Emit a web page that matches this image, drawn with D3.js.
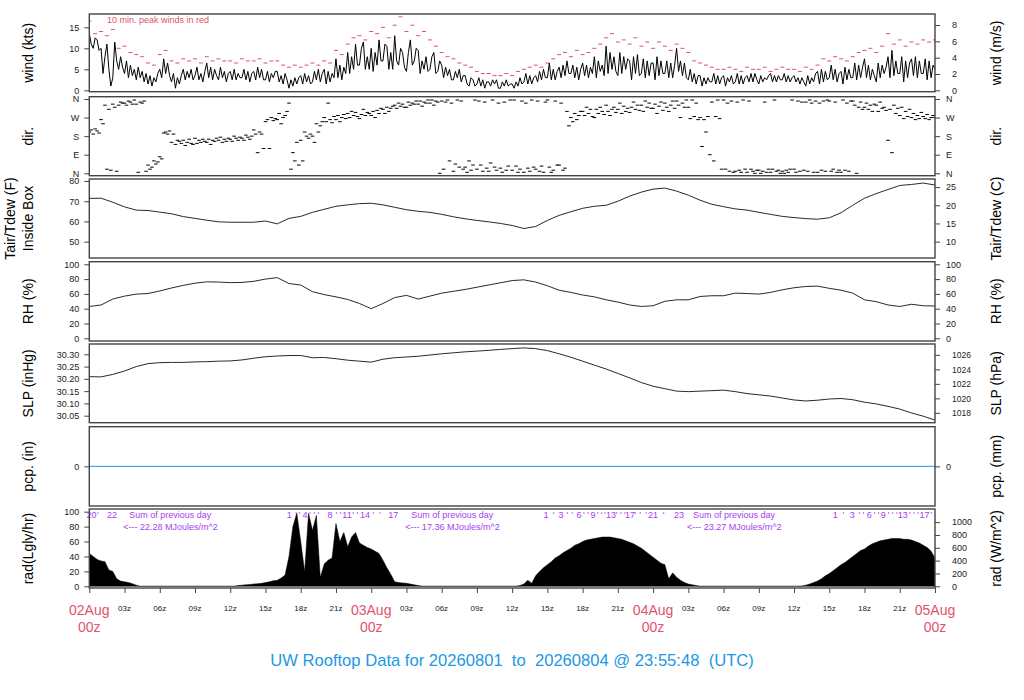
<!DOCTYPE html>
<html>
<head>
<meta charset="utf-8">
<title>UW Rooftop Data</title>
<script src="https://cdn.jsdelivr.net/npm/d3@7"></script>
<style>
  body { margin: 0; background: #fff; }
  svg text { font-family: "Liberation Sans", Arial, Helvetica, sans-serif; }
</style>
</head>
<body>
<svg width="1024" height="700"></svg>
<script>
// all times are hours after 02Aug 00z

// wind speed, kts, every 10 min (one row per hour)
var windStep = 1 / 6;
var windKts = [
  13.5, 11, 10, 12.5, 12, 9.5,   10, 4, 8, 11, 5, 1,   3, 11.5, 7, 5, 8, 5.5,
  4, 7, 3, 6, 3.5, 5,   2.5, 5.5, 3, 4.5, 2, 4,   1.5, 3.5, 1, 3, 2, 4,
  5, 3, 7.5, 4, 6.5, 3.5,   2, 4, 0.5, 3, 1.5, 3.5,   5, 2.5, 4.5, 3, 5, 2.5,
  3.5, 5.5, 2.5, 4, 2, 4.5,   6.5, 3, 5.5, 2.5, 5, 3.5,   2.5, 5.5, 3, 4.5, 2, 4,
  4.5, 2.5, 5, 2.5, 4, 3,   3, 5, 2.5, 4.5, 2, 4,   4.5, 2.5, 5.5, 3, 5, 2.5,
  2.5, 4.5, 2, 4, 3, 4.5,   4.5, 2, 3.5, 1.5, 4, 2.5,   0.5, 2.5, 1, 3, 1.5, 3,
  3.5, 1.5, 4, 2, 3.5, 1.5,   2, 4.5, 2.5, 5, 2, 4,   5, 1.5, 4.5, 2, 4, 3,
  7.5, 3, 6, 2.5, 5.5, 4,   9, 4, 8, 5, 11, 6,   6, 10, 11.5, 5, 8, 5,
  10, 4.5, 9, 6, 12, 7,   7, 11, 10.5, 5, 9, 5,   13, 7, 6, 10, 9, 5.5,
  4.5, 9, 12, 6, 7, 10,   9.5, 4, 7, 5, 8, 4.5,   5, 8, 9, 4, 4.5, 7,
  6, 3, 5.5, 3.5, 5, 2.5,   2.5, 4.5, 3, 5, 2, 3.5,   3.5, 1.5, 1, 3, 2.5, 1,
  1.5, 3, 1, 2.5, 0.5, 2,   2, 1, 2.5, 1.5, 2.5, 0.5,   0.5, 2, 1, 2.5, 1, 1.5,
  1.5, 0.5, 2, 1, 3, 1.5,   2, 4, 1.5, 3.5, 1.5, 3,   3.5, 2, 4.5, 2.5, 5, 3,
  3, 6.5, 2.5, 5, 2.5, 4.5,   5.5, 3, 6, 3.5, 7, 4,   4, 6, 3, 5.5, 2.5, 5,
  6.5, 3.5, 6, 3, 5.5, 4,   8, 3, 7, 4.5, 6, 3.5,   10.5, 4, 9, 5, 8, 4.5,
  3.5, 9, 4, 8, 5, 7.5,   7, 2.5, 8, 4, 8.5, 3.5,   4, 7.5, 3, 7, 3.5, 6.5,
  6.5, 2.5, 8, 3.5, 7, 4,   4, 7, 3, 6.5, 3, 6,   10, 4.5, 7, 3.5, 6.5, 3,
  2.5, 5, 2, 4, 1.5, 3.5,   3.5, 1, 3, 1.5, 3, 2,   2, 4, 1.5, 3.5, 1.5, 3,
  3.5, 1, 3, 2, 3.5, 1.5,   2, 4, 1.5, 3.5, 1.5, 3,   3.5, 2, 4, 2, 4, 2.5,
  1.5, 3.5, 2, 3, 2.5, 3.5,   4, 2, 3.5, 2, 3.5, 2.5,   2.5, 4, 2, 3.5, 2, 3,
  3.5, 2, 3, 1.5, 3, 2,   1, 3.5, 1.5, 3, 2, 4,   4.5, 1.5, 5, 2, 4.5, 2.5,
  3, 6, 2.5, 5, 2, 4,   4.5, 1.5, 5.5, 2.5, 5, 3,   3, 6.5, 2.5, 6, 3, 5.5,
  7.5, 3, 6, 2.5, 5, 3.5,   2, 6.5, 3, 6, 4, 5.5,   8, 3, 9.5, 3.5, 7, 4,
  4, 8, 2, 7, 3, 6.5,   7.5, 3.5, 8, 3, 7, 4,   4, 7.5, 2.5, 7, 3, 6,
  5
];

// 10 min. peak winds, kts, every 30 min
var peakStep = 0.5;
var peakKts = [
  16.5, 13.5,  14, 13,  14.5, 10,  10.5, 9,  8.5, 8,  6.5, 6,  8.5, 9.5,  7, 6.5,
  7.5, 7,  7.5, 6.5,  8, 7,  7.5, 7,  7, 6.5,  7.5, 7,  7, 7.5,  6.5, 7,
  7, 6,  5.5, 6,  5.5, 6,  6.5, 6,  7, 6.5,  9.5, 8.5,  11, 12.5,  13, 12,
  14, 13.5,  15, 12.5,  15.5, 17.5,  14, 15.5,  13, 14,  12, 10.5,  9, 8,  7.5, 6.5,
  6, 5.5,  4.5, 4,  4, 3.5,  3.5, 4,  3.5, 4.5,  5, 5.5,  6, 5.5,  6.5, 7.5,
  8.5, 9,  8, 9.5,  8.5, 9,  10, 11,  12.5, 13.5,  11.5, 12,  11, 12.5,  10.5, 11.5,
  10, 11.5,  10.5, 9.5,  11, 10,  9, 7,  6.5, 6,  5.5, 5,  5, 5.5,  5, 4.5,
  5.5, 5,  5, 5.5,  4.5, 5,  5.5, 5,  5, 4.5,  5.5, 5,  6, 7.5,  7, 8,
  7.5, 7,  8, 9,  9.5, 10,  9, 10.5,  13.5, 11,  12, 10.5,  11.5, 11,  12, 11.5,
  12
];

// wind direction, degrees, every 10 min (one row per hour)
var dirStep = 1 / 6;
var dirDeg = [
  200, 210, 190, 215, 205, 195,   260, 240, 330, 20, 310, 15,   335, 320, 10, 330, 345, 340,
  340, 330, 350, 345, 335, 355,   335, 5, 345, 340, 350, 10,   40, 20, 30, 60, 45, 55,
  80, 70, 195, 200, 190, 205,   150, 190, 140, 160, 155, 145,   160, 135, 150, 165, 145, 140,
  170, 145, 160, 150, 165, 155,   150, 165, 140, 160, 155, 170,   160, 175, 150, 165, 155, 170,
  165, 155, 180, 170, 160, 175,   170, 160, 185, 175, 165, 180,   210, 190, 100, 200, 190, 120,
  250, 260, 120, 270, 255, 265,   260, 290, 240, 270, 280, 300,   340, 20, 100, 60, 150, 40,
  160, 60, 200, 180, 170, 190,   180, 150, 240, 200, 230, 250,   270, 250, 340, 260, 245, 275,
  260, 280, 250, 270, 285, 265,   290, 270, 300, 280, 295, 275,   265, 285, 310, 280, 295, 290,
  280, 300, 270, 305, 290, 315,   310, 290, 320, 300, 315, 325,   330, 315, 340, 325, 335, 320,
  320, 345, 330, 340, 335, 350,   335, 350, 325, 345, 340, 355,   340, 355, 330, 350, 345, 0,
  350, 20, 345, 355, 60, 340,   10, 45, 355, 30, 350, 20,   30, 5, 60, 15, 40, 355,
  20, 350, 40, 10, 345, 25,   10, 50, 355, 30, 15, 340,   25, 5, 345, 15, 35, 355,
  15, 355, 35, 5, 20, 350,   5, 340, 25, 10, 355, 30,   20, 350, 10, 35, 5, 345,
  355, 30, 5, 15, 350, 40,   40, 340, 15, 25, 300, 230,   270, 250, 290, 260, 280, 300,
  300, 280, 320, 290, 310, 275,   270, 310, 290, 320, 300, 285,   330, 300, 280, 310, 320, 295,
  310, 340, 290, 325, 300, 315,   295, 320, 345, 310, 330, 305,   330, 300, 350, 320, 340, 315,
  315, 335, 290, 325, 345, 305,   340, 320, 300, 330, 350, 315,   350, 330, 270, 340, 320, 355,
  320, 265, 355, 275, 340, 260,   270, 130, 260, 200, 275, 90,   345, 60, 275, 355, 265, 20,
  355, 20, 340, 10, 350, 5,   10, 345, 15, 5, 355, 20,   5, 350, 20, 10, 0, 15,
  15, 0, 10, 345, 5, 20,   5, 20, 355, 10, 15, 0,   10, 0, 15, 5, 20, 355,
  20, 5, 350, 10, 345, 15,   345, 10, 355, 340, 5, 350,   5, 340, 15, 350, 10, 355,
  350, 10, 20, 345, 5, 15,   5, 355, 15, 340, 10, 350,   350, 330, 0, 320, 345, 310,
  320, 340, 310, 330, 300, 335,   330, 300, 345, 315, 320, 305,   160, 310, 100, 330, 290, 315,
  280, 320, 265, 300, 275, 310,   270, 290, 260, 280, 265, 295,   275, 265, 285, 260, 270, 280,
  270
];

// hourly values
var hourlyStep = 1;
var tempF = [
  71.4, 71.5, 69.5, 67.2, 65.6, 65.4, 64.6, 63.8, 62.4, 61.5, 60.6, 59.8,
  59.6, 59.6, 59.6, 60.2, 58.8, 61.5, 62.5, 64.5, 66.0, 67.5, 68.2, 68.8,
  69.0, 68.2, 67.0, 65.8, 65.0, 64.5, 63.5, 62.3, 61.3, 60.5, 59.8, 59.0,
  58.0, 56.5, 57.5, 60.5, 63.0, 64.8, 66.5, 67.5, 68.0, 70.0, 72.5, 74.5,
  76.0, 76.5, 75.0, 73.0, 70.5, 68.5, 67.3, 66.2, 65.6, 64.5, 63.5, 62.5,
  61.9, 61.4, 61.1, 61.8, 64.3, 68.0, 71.5, 73.8, 75.8, 77.8, 78.3, 79.0,
  78.0
];
var rhPct = [
  43, 45, 53, 57, 59.7, 60.5, 64, 68, 71.5, 74.5, 76.3, 76,
  75.2, 75.5, 77, 80, 82, 74, 72, 63, 59, 56, 52.5, 47,
  40, 47, 55, 58, 53, 57, 61, 63.5, 66, 69, 72, 75,
  78, 79, 76, 71, 65, 62, 58.5, 56, 52, 49, 45, 43,
  44, 50, 52, 52, 56.5, 57.5, 57.5, 61, 60.5, 59.7, 62, 65.5,
  68.3, 70, 70.5, 67.5, 65, 61, 52, 49.5, 45, 43, 46, 44,
  43.6
];
var slpInHg = [
  30.209, 30.208, 30.218, 30.232, 30.250, 30.262, 30.266, 30.267, 30.267, 30.269, 30.270, 30.272,
  30.273, 30.277, 30.284, 30.290, 30.293, 30.295, 30.295, 30.286, 30.287, 30.282, 30.276, 30.272,
  30.268, 30.280, 30.286, 30.289, 30.292, 30.297, 30.302, 30.306, 30.310, 30.313, 30.316, 30.320,
  30.323, 30.326, 30.323, 30.315, 30.302, 30.288, 30.272, 30.256, 30.240, 30.222, 30.204, 30.185,
  30.170, 30.160, 30.150, 30.148, 30.150, 30.152, 30.154, 30.148, 30.140, 30.135, 30.130, 30.122,
  30.114, 30.110, 30.113, 30.118, 30.120, 30.115, 30.105, 30.098, 30.088, 30.077, 30.061, 30.048,
  30.032
];
var pcpIn = [0, 0];
var pcpStep = 72;

// solar radiation, Lgly/hr, every 20 min
var radStep = 1 / 3;
var radLgly = [
  44, 40, 36,  34, 33, 22,  20, 10, 7,  6, 5, 3.5,  1.5, 0, 0,
  0, 0, 0,  0, 0, 0,  0, 0, 0,  0, 0, 0,  0, 0, 0,  0, 0, 0,  0, 0, 0,
  0, 0, 1,  1.5, 2, 2.5,  3, 3.5, 4,  5, 6, 7.5,  8, 11, 15,  40, 80, 98,
  60, 20, 98,  75, 95, 12,  30, 35, 38,  84, 60, 72,  53, 66, 72,  58, 55, 52,
  50, 47, 44,  35, 25, 16,  6, 5, 4.5,  4, 3, 2,  1, 0, 0,
  0, 0, 0,  0, 0, 0,  0, 0, 0,  0, 0, 0,  0, 0, 0,  0, 0, 0,  0, 0, 0,
  0, 0, 1,  3, 8, 4,  14, 20, 25,  29, 33, 38,  41, 45, 48,  51, 55, 57,
  60, 62, 63,  64, 65, 66,  66, 66, 65,  64, 63, 61,  59, 57, 54,  51, 47, 43,
  39, 35, 31,  29, 10, 18,  12, 8, 5,  3, 2, 1,
  0, 0, 0,  0, 0, 0,  0, 0, 0,  0, 0, 0,  0, 0, 0,  0, 0, 0,  0, 0, 0,  0, 0, 0,
  0, 0, 0.5,  1.5, 3, 5,  7, 10, 14,  17, 21, 25,  29, 32, 36,  40, 44, 48,
  50, 54, 57,  59, 61, 62,  63, 64, 64,  64, 63, 63,  62, 60, 58,  55, 52, 47,
  38
];

// daily radiation sums and cumulative MJ marks
var radSumHours = [3.4, 27.4, 51.4];
var radSumValues = ["22.28", "17.36", "23.27"];
var radMarkHours = [0.19, 1.93,
  17.03, 18.36, 20.49, 21.94, 23.47, 25.88,
  38.88, 40.16, 41.69, 42.88, 44.41, 46.03, 47.99, 50.2,
  63.5, 64.96, 66.4, 67.6, 69.25, 71.1];
var radMarkText = ["20", "22",
  "1", "4", "8", "11", "14", "17",
  "1", "3", "6", "9", "13", "17", "21", "23",
  "1", "3", "6", "9", "13", "17"];
var radTickHours = [0.72,
  17.6, 17.88, 18.79, 19.16, 19.5, 21.06, 21.4, 22.45, 22.82, 24.18, 24.75,
  39.5, 40.7, 41.1, 42.1, 42.45, 43.3, 43.6, 43.9, 44.9, 45.25, 45.6, 46.5, 46.9, 47.4, 48.9,
  64.2, 65.55, 65.9, 66.85, 67.2, 68.05, 68.4, 68.75, 69.85, 70.2, 70.55, 71.7];

var dayLabels = ["02Aug", "03Aug", "04Aug", "05Aug"];
var hourLabels = ["00z", "03z", "06z", "09z", "12z", "15z", "18z", "21z"];
var compass = ["N", "E", "S", "W", "N"];
var titleText = "UW Rooftop Data for 20260801  to  20260804 @ 23:55:48  (UTC)";

var RED = "#DF536B", BLUE = "#2297E6", VIOLET = "#a83cf0";

var svg = d3.select("svg");
var x = d3.scaleLinear().domain([0, 72]).range([89.3, 935]);

function series(values, step) {
  return values.map(function(v, i) { return { t: i * step, v: v }; });
}
function compassFmt(d) { return compass[Math.round(d / 90)]; }

var panels = [
  { id: "wind", top: 14, bottom: 91.7, dom: [-0.33, 18.17], lab: ["wind (kts)"], rlab: "wind (m/s)",
    lt: [0, 5, 10, 15], conv: function(v) { return v / 1.94384; }, rt: [0, 2, 4, 6, 8], rpad: 12 },
  { id: "dir", top: 96.7, bottom: 175.7, dom: [-11.6, 371.1], lab: ["dir."], rlab: "dir.",
    lt: [0, 90, 180, 270, 360], fmt: compassFmt, conv: function(v) { return v; },
    rt: [0, 90, 180, 270, 360], rfmt: compassFmt, rpad: 6 },
  { id: "temp", top: 179, bottom: 258, dom: [41.9, 81], lab: ["Tair/Tdew (F)", "Inside Box"], rlab: "Tair/Tdew (C)",
    lt: [50, 60, 70, 80], conv: function(v) { return (v - 32) * 5 / 9; }, rt: [10, 15, 20, 25], rpad: 6 },
  { id: "rh", top: 261.7, bottom: 341, dom: [-3.65, 103.5], lab: ["RH (%)"], rlab: "RH (%)",
    lt: [0, 20, 40, 60, 80, 100], conv: function(v) { return v; }, rt: [0, 20, 40, 60, 80, 100], rpad: 6 },
  { id: "slp", top: 344, bottom: 422.7, dom: [30.0215, 30.3419], lab: ["SLP (inHg)"], rlab: "SLP (hPa)",
    lt: [30.05, 30.10, 30.15, 30.20, 30.25, 30.30], fmt: d3.format(".2f"),
    conv: function(v) { return v * 33.8639; }, rt: [1018, 1020, 1022, 1024, 1026], rpad: 12, rsize: 8.5 },
  { id: "pcp", top: 426.7, bottom: 506, dom: [-1, 1], lab: ["pcp. (in)"], rlab: "pcp. (mm)",
    lt: [0], conv: function(v) { return v * 25.4; }, rt: [0], rpad: 6 },
  { id: "rad", top: 509, bottom: 588, dom: [-2.28, 103.6], lab: ["rad(Lgly/hr)"], rlab: "rad (W/m^2)",
    lt: [0, 20, 40, 60, 80, 100], conv: function(v) { return v * 11.622; },
    rt: [0, 200, 400, 600, 800, 1000], rpad: 12 }
];

var Y = {};
panels.forEach(function(p) {
  var y = d3.scaleLinear().domain(p.dom).range([p.bottom, p.top]);
  var yr = d3.scaleLinear().domain(p.dom.map(p.conv)).range([p.bottom, p.top]);
  Y[p.id] = y;
  var mid = (p.top + p.bottom) / 2;

  svg.append("clipPath").attr("id", "clip-" + p.id)
    .append("rect").attr("x", x(0)).attr("y", p.top)
    .attr("width", x(72) - x(0)).attr("height", p.bottom - p.top);

  var la = svg.append("g").attr("transform", "translate(" + x(0) + ",0)")
    .call(d3.axisLeft(y).tickValues(p.lt).tickSize(5).tickPadding(5)
      .tickFormat(p.fmt || d3.format("d")));
  la.select(".domain").remove();
  la.selectAll("text").attr("font-size", 9).attr("fill", "#222").attr("font-family", null);
  la.selectAll("line").attr("stroke", "#444");

  var ra = svg.append("g").attr("transform", "translate(" + x(72) + ",0)")
    .call(d3.axisRight(yr).tickValues(p.rt).tickSize(5).tickPadding(p.rpad)
      .tickFormat(p.rfmt || d3.format("d")));
  ra.select(".domain").remove();
  ra.selectAll("text").attr("font-size", p.rsize || 9).attr("fill", "#222").attr("font-family", null);
  ra.selectAll("line").attr("stroke", "#444");

  var lx = p.lab.length > 1 ? [10, 27.5] : [27.5];
  p.lab.forEach(function(s, i) {
    svg.append("text").attr("transform", "translate(" + lx[i] + "," + mid + ") rotate(-90)")
      .attr("text-anchor", "middle").attr("dy", "0.36em").attr("font-size", 14).text(s);
  });
  svg.append("text").attr("transform", "translate(996," + mid + ") rotate(-90)")
    .attr("text-anchor", "middle").attr("dy", "0.36em").attr("font-size", 14).text(p.rlab);
});

function plotG(id) { return svg.append("g").attr("clip-path", "url(#clip-" + id + ")"); }

var line = function(y) {
  return d3.line().x(function(d) { return x(d.t); }).y(function(d) { return y(d.v); });
};

// wind: peak dashes, then speed trace
plotG("wind").append("g").selectAll("line").data(series(peakKts, peakStep)).enter().append("line")
  .attr("x1", function(d) { return x(d.t) - 2; }).attr("x2", function(d) { return x(d.t) + 2; })
  .attr("y1", function(d) { return Y.wind(d.v); }).attr("y2", function(d) { return Y.wind(d.v); })
  .attr("stroke", RED).attr("stroke-width", 1);
plotG("wind").append("path").datum(series(windKts, windStep))
  .attr("d", line(Y.wind)).attr("fill", "none").attr("stroke", "#000").attr("stroke-width", 1);
svg.append("text").attr("x", 107).attr("y", 22.5).attr("font-size", 9).attr("fill", RED)
  .text("10 min. peak winds in red");

// direction as small dashes
plotG("dir").selectAll("line").data(series(dirDeg, dirStep)).enter().append("line")
  .attr("x1", function(d) { return x(d.t) - 1.8; }).attr("x2", function(d) { return x(d.t) + 1.8; })
  .attr("y1", function(d) { return Y.dir(d.v); }).attr("y2", function(d) { return Y.dir(d.v); })
  .attr("stroke", "#000").attr("stroke-width", 1);

// temperature, RH, pressure
[["temp", tempF], ["rh", rhPct], ["slp", slpInHg]].forEach(function(s) {
  plotG(s[0]).append("path").datum(series(s[1], hourlyStep))
    .attr("d", line(Y[s[0]])).attr("fill", "none").attr("stroke", "#111").attr("stroke-width", 0.9);
});

// precipitation
plotG("pcp").append("path").datum(series(pcpIn, pcpStep))
  .attr("d", line(Y.pcp)).attr("fill", "none").attr("stroke", BLUE).attr("stroke-width", 1);

// radiation
plotG("rad").append("path").datum(series(radLgly, radStep))
  .attr("d", d3.area().x(function(d) { return x(d.t); })
    .y0(Y.rad(0)).y1(function(d) { return Y.rad(d.v); }))
  .attr("fill", "#000").attr("stroke", "#000").attr("stroke-width", 0.5);

var ann = svg.append("g").attr("fill", VIOLET).attr("font-size", 9);
ann.selectAll(".mk").data(radMarkHours).enter().append("text")
  .attr("x", function(d) { return x(d); }).attr("y", 517.5).attr("text-anchor", "middle")
  .text(function(d, i) { return radMarkText[i]; });
ann.selectAll(".tk").data(radTickHours).enter().append("text")
  .attr("x", function(d) { return x(d); }).attr("y", 517.5).attr("text-anchor", "middle").text("'");
radSumHours.forEach(function(h, i) {
  ann.append("text").attr("x", x(h)).attr("y", 517.5).text("Sum of previous day");
  ann.append("text").attr("x", x(h) - 6).attr("y", 530).text("<--- " + radSumValues[i] + " MJoules/m^2");
});

// panel frames
svg.append("g").selectAll("rect").data(panels).enter().append("rect")
  .attr("x", x(0)).attr("y", function(p) { return p.top; })
  .attr("width", x(72) - x(0)).attr("height", function(p) { return p.bottom - p.top; })
  .attr("fill", "none").attr("stroke", "#444").attr("stroke-width", 1.4);

// time axis
var xa = svg.append("g").attr("transform", "translate(0,588)")
  .call(d3.axisBottom(x).tickValues(d3.range(0, 73, 3)).tickSize(5).tickFormat(""));
xa.select(".domain").remove();
xa.selectAll("line").attr("stroke", "#444");

var hourTicks = d3.range(0, 73, 3).filter(function(h) { return h % 24 !== 0; });
svg.append("g").selectAll("text").data(hourTicks).enter().append("text")
  .attr("x", function(h) { return x(h); }).attr("y", 611).attr("text-anchor", "middle")
  .attr("font-size", 8).attr("fill", "#222")
  .text(function(h) { return hourLabels[(h % 24) / 3]; });

var days = svg.append("g").attr("fill", RED).attr("font-size", 14).attr("text-anchor", "middle");
dayLabels.forEach(function(s, i) {
  days.append("text").attr("x", x(i * 24)).attr("y", 615).text(s);
  days.append("text").attr("x", x(i * 24)).attr("y", 632).text(hourLabels[0]);
});

svg.append("text").attr("x", 512).attr("y", 666).attr("text-anchor", "middle")
  .attr("font-size", 16.6).attr("fill", BLUE).attr("xml:space", "preserve")
  .style("white-space", "pre").text(titleText);
</script>
</body>
</html>
